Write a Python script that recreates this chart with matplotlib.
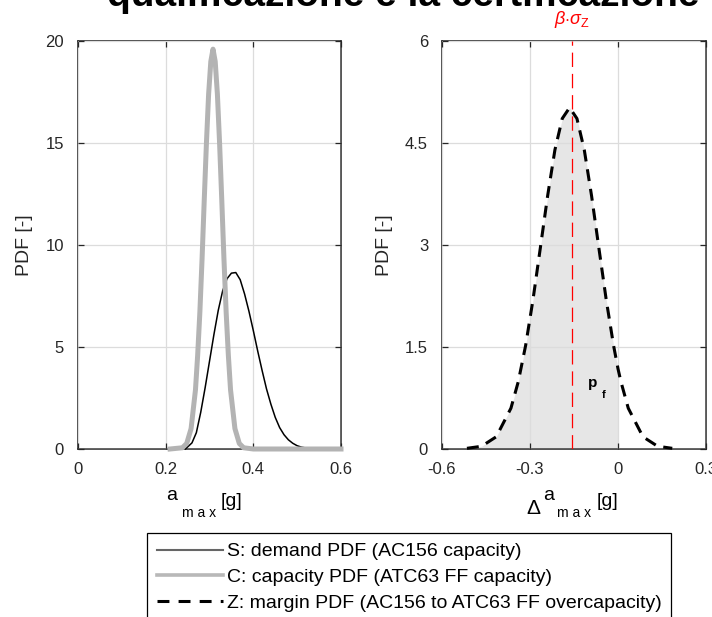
import matplotlib

matplotlib.use("Agg")

import matplotlib.pyplot as plt
import numpy as np
from matplotlib.lines import Line2D

plt.rcParams["font.family"] = ["Liberation Sans", "DejaVu Sans"]
plt.rcParams["mathtext.fontset"] = "custom"
plt.rcParams["mathtext.rm"] = "Liberation Sans"
plt.rcParams["mathtext.it"] = "Liberation Sans:italic"
plt.rcParams["mathtext.bf"] = "Liberation Sans:bold"

# demand PDF S (thin black)
s_x = [0.245, 0.26, 0.27, 0.28, 0.29, 0.30, 0.31, 0.32, 0.33, 0.34, 0.35,
       0.36, 0.37, 0.38, 0.39, 0.40, 0.41, 0.42, 0.43, 0.44, 0.45, 0.46,
       0.47, 0.48, 0.49, 0.50, 0.51, 0.52, 0.53, 0.55]
s_y = [0.0, 0.3, 0.8, 1.8, 3.0, 4.3, 5.6, 6.8, 7.75, 8.35, 8.62,
       8.65, 8.3, 7.6, 6.75, 5.8, 4.8, 3.85, 2.95, 2.2, 1.55, 1.05,
       0.7, 0.45, 0.28, 0.16, 0.09, 0.05, 0.02, 0.0]

# capacity PDF C (thick light grey)
c_x = [0.21, 0.238, 0.248, 0.258, 0.268, 0.273, 0.278, 0.283, 0.288, 0.293,
       0.298, 0.303, 0.308, 0.313, 0.318, 0.323, 0.328, 0.333, 0.338, 0.343,
       0.348, 0.358, 0.368, 0.378, 0.40, 0.60]
c_y = [0.0, 0.06, 0.27, 1.0, 2.9, 4.6, 6.7, 9.3, 12.2, 15.0,
       17.4, 19.0, 19.6, 19.0, 17.4, 15.0, 12.2, 9.3, 6.7, 4.6,
       2.9, 1.0, 0.27, 0.06, 0.0, 0.0]

# margin PDF Z (dashed black)
z_x = [-0.515, -0.465, -0.415, -0.365, -0.34, -0.315, -0.29, -0.265, -0.24,
       -0.215, -0.19, -0.165, -0.14, -0.115, -0.09, -0.065, -0.04, -0.015,
       0.0, 0.01, 0.035, 0.085, 0.135, 0.185]
z_y = [0.01, 0.04, 0.18, 0.60, 0.99, 1.52, 2.19, 2.95, 3.72,
       4.40, 4.86, 5.02, 4.86, 4.40, 3.72, 2.95, 2.19, 1.52,
       1.18, 0.99, 0.60, 0.18, 0.04, 0.01]

beta_sigma = -0.158

left_xticks = [0, 0.2, 0.4, 0.6]
left_xlabels = ["0", "0.2", "0.4", "0.6"]
left_yticks = [0, 5, 10, 15, 20]
right_xticks = [-0.6, -0.3, 0, 0.3]
right_xlabels = ["-0.6", "-0.3", "0", "0.3"]
right_yticks = [0, 1.5, 3, 4.5, 6]
right_ylabels = ["0", "1.5", "3", "4.5", "6"]

legend_labels = [
    "S: demand PDF (AC156 capacity)",
    "C: capacity PDF (ATC63 FF capacity)",
    "Z: margin PDF (AC156 to ATC63 FF overcapacity)",
]

W, H = 712, 617
fig = plt.figure(figsize=(W / 100, H / 100), dpi=100)


def px_box(x0, y0, x1, y1):
    return [x0 / W, 1 - y1 / H, (x1 - x0) / W, (y1 - y0) / H]


def style_axes(ax):
    for sp in ax.spines.values():
        sp.set_color("#262626")
        sp.set_linewidth(1.1)
    ax.tick_params(direction="in", length=4, width=0.9, color="#262626",
                   top=True, right=True, labelsize=12, labelcolor="#262626")
    ax.tick_params(axis="y", pad=10)
    ax.tick_params(axis="x", pad=9)
    ax.grid(True, color="#dcdcdc", linewidth=0.9)
    ax.set_axisbelow(False)


ax1 = fig.add_axes(px_box(78, 41, 341, 449))
ax1.plot(s_x, s_y, color="black", linewidth=1.1, zorder=3, clip_on=False)
ax1.plot(c_x, c_y, color="#b3b3b3", linewidth=3.6, zorder=3.2,
         clip_on=False)
ax1.set_xlim(0, 0.6)
ax1.set_ylim(0, 20)
ax1.set_xticks(left_xticks, left_xlabels)
ax1.set_yticks(left_yticks)
style_axes(ax1)
ax1.set_ylabel("PDF [-]", fontsize=14, color="#262626", labelpad=9)

ax2 = fig.add_axes(px_box(442, 41, 706, 449))
zx = np.array(z_x)
zy = np.array(z_y)
mask = zx <= 0
ax2.fill_between(zx[mask], 0, zy[mask], color="#e6e6e6", linewidth=0,
                 zorder=1)
ax2.plot(z_x, z_y, color="black", linewidth=2.2, linestyle=(0, (3.9, 2.6)),
         zorder=3, clip_on=False)
ax2.axvline(beta_sigma, color="red", linewidth=0.9,
            linestyle=(0, (11.5, 5.5)), zorder=2.8)
ax2.set_xlim(-0.6, 0.3)
ax2.set_ylim(0, 6)
ax2.set_xticks(right_xticks, right_xlabels)
ax2.set_yticks(right_yticks, right_ylabels)
style_axes(ax2)
ax2.set_ylabel("PDF [-]", fontsize=14, color="#262626", labelpad=9)
ax2.text(beta_sigma, 6.31, r"$\beta{\cdot}\sigma_{\mathrm{Z}}$", color="red",
         fontsize=13, ha="center", va="center")
ax2.text(-0.085, 0.97, "p", fontsize=11, fontweight="bold", ha="center",
         va="center")
ax2.text(-0.049, 0.8, "f", fontsize=8, fontweight="bold", ha="center",
         va="center")

# x labels with MATLAB-like subscripts
fig.text(172 / W, 1 - 495 / H, "a", fontsize=14, ha="center", va="center")
fig.text(199 / W, 1 - 513 / H, "m a x", fontsize=10, ha="center",
         va="center")
fig.text(232 / W, 1 - 502 / H, "[g]", fontsize=14, ha="center", va="center")
fig.text(533 / W, 1 - 508 / H, "Δ", fontsize=15, ha="center", va="center")
fig.text(549 / W, 1 - 495 / H, "a", fontsize=14, ha="center", va="center")
fig.text(574 / W, 1 - 513 / H, "m a x", fontsize=10, ha="center",
         va="center")
fig.text(607 / W, 1 - 502 / H, "[g]", fontsize=14, ha="center", va="center")

# title, clipped at the top edge
fig.text(403 / W, 1 - 6 / H, "qualificazione e la certificazione",
         fontsize=28, fontweight="bold", ha="center", va="baseline")

handles = [
    Line2D([], [], color="#666666", linewidth=1.5),
    Line2D([], [], color="#b8b8b8", linewidth=2.6),
    Line2D([], [], color="black", linewidth=2.2, linestyle=(0, (3.9, 3.0))),
]
leg = fig.legend(handles, legend_labels,
                 loc="upper left", bbox_to_anchor=(147 / W, 1 - 533 / H),
                 fontsize=14, frameon=True, fancybox=False,
                 edgecolor="black", framealpha=1, handlelength=3.4,
                 handletextpad=0.2, labelspacing=0.42, borderpad=0.5,
                 borderaxespad=0)
leg.get_frame().set_linewidth(0.9)

fig.savefig("out.png", dpi=100)
